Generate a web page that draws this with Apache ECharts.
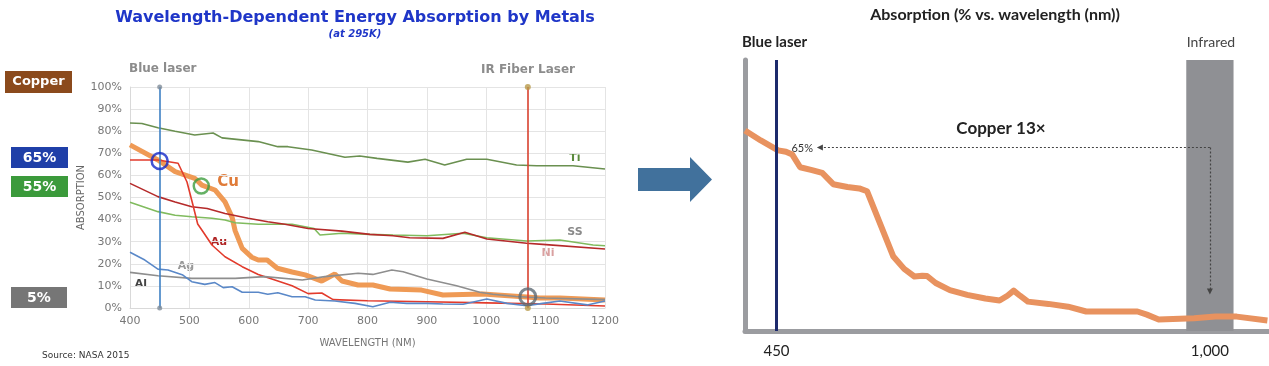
<!DOCTYPE html>
<html><head><meta charset="utf-8">
<script src="https://cdn.jsdelivr.net/npm/echarts@6/dist/echarts.min.js"></script>
<style>html,body{margin:0;padding:0;background:#fff}#c{width:1269px;height:366px}</style>
</head><body><div id="c"></div>
<script>
// ---------- Left chart data: [wavelength nm, absorption %] ----------
const tiData = [[400,83.7],[420,83.5],[447,81.6],[476,80],[509,78.3],[540,79.2],[555,77],[616,75.3],[649,73],[666,73],[706,71.5],[762,68.2],[787,68.8],[816,67.7],[868,66],[897,67.3],[930,64.7],[967,67.3],[1001,67.3],[1051,64.7],[1085,64.4],[1146,64.4],[1200,62.9]];
const cuData = [[400,73.8],[447,67],[476,61.7],[509,58.7],[521,55.6],[543,53.4],[560,48],[572,41],[577,35],[589,27],[605,23],[616,21.7],[631,21.7],[648,18],[673,16.3],[695,15],[723,12.2],[745,15.4],[757,12.2],[784,10.4],[809,10.4],[838,8.6],[891,8.1],[927,5.9],[994,6.3],[1068,5],[1090,4.5],[1124,4.5],[1200,3.6]];
const auData = [[400,67],[447,67],[481,65.5],[496,57],[506,46.6],[514,38],[523,34.5],[538,28.5],[560,23.2],[589,18.7],[616,15.2],[644,12.7],[673,10.1],[700,6.5],[723,6.8],[742,3.8],[800,3.3],[900,2.8],[1000,2.3],[1100,1.8],[1200,0.9]];
const agData = [[400,16.1],[447,14.6],[504,13.4],[577,13.4],[627,14.2],[690,12.7],[728,14.2],[784,15.7],[809,15.2],[841,17.2],[860,16.4],[900,13.1],[950,10.1],[989,7.1],[1011,6.2],[1050,5.2],[1100,4.5],[1200,3.8]];
const alData = [[400,25.2],[425,21.7],[447,17.6],[464,17.2],[489,14.9],[504,11.9],[526,10.7],[543,11.5],[557,9.2],[572,9.6],[589,7.1],[616,7.1],[632,6.2],[649,6.9],[673,5.1],[695,5.1],[712,3.6],[745,3.2],[779,2.1],[809,0.6],[838,2.6],[866,2.1],[900,2.1],[927,1.8],[961,1.7],[1001,4.1],[1035,2.1],[1068,1.0],[1095,2.1],[1124,3.2],[1170,1.4],[1200,3.2]];
const niData = [[400,56.4],[447,50.4],[476,48],[504,45.8],[530,45],[560,42.8],[599,40.6],[632,39],[661,37.9],[700,36],[757,34.8],[804,33.3],[843,32.7],[871,31.8],[927,31.5],[964,34.3],[1001,31.2],[1068,29.3],[1095,28.8],[1200,26.7]];
const ssData = [[400,47.8],[447,43.6],[476,42],[504,41.3],[538,40.6],[560,39.8],[577,38.6],[616,37.9],[673,37.9],[710,36],[720,33],[757,33.8],[804,33.3],[843,33],[900,32.7],[961,33.8],[1001,31.8],[1068,30.3],[1124,30.8],[1180,28.5],[1200,28.2]];
const blueLaserNm = 450;
const irFiberNm = 1070;
const blueRing = [[450,66.5]];
const greenRing = [[520,55.2]];
const grayRing = [[1070,5.1]];
const laserEnds = [[450,100],[450,0]];
const irEnds = [[1070,100],[1070,0]];

// ---------- Right chart data ----------
const cuRightData = [[410,71],[430,67.5],[452,64],[462,63.5],[470,62.5],[480,58],[495,57],[508,56],[522,52],[540,51],[555,50.5],[565,49.5],[598,26.5],[612,22],[625,19.3],[635,19.6],[641,19.5],[652,17],[670,14.5],[692,12.8],[715,11.5],[733,10.8],[743,12.5],[751,14.3],[759,12.5],[769,10.4],[795,9.6],[820,8.6],[843,6.9],[875,6.9],[908,6.9],[920,5.8],[935,4.1],[980,4.5],[1007,5.1],[1034,5.1],[1073,3.7]];
const rightTickLabels = [450, 1000];
const infraredBand = [970, 1030];
const copperBlue = 65, copperIR = 5, arrowLeftNm = 505, arrowBottom = 14;

const FL = 'DejaVu Sans';
const FR = 'Lato';
const chart = echarts.init(document.getElementById('c'), null, {renderer:'canvas'});

function line(name, data, color, width, z) {
  return {name, type:'line', data, showSymbol:false, silent:true, z: z||2,
    lineStyle:{color, width}, itemStyle:{color}};
}
function ring(data, color, size, bw) {
  return {type:'scatter', data, symbol:'circle', symbolSize:size, z:6, silent:true,
    itemStyle:{color:'rgba(0,0,0,0)', borderColor:color, borderWidth:bw}};
}

const option = {
  animation:false,
  backgroundColor:'#fff',
  grid:[
    {left:130, top:87, width:475, height:221},
    {left:745, top:60, width:524, height:271}
  ],
  xAxis:[
    {gridIndex:0, type:'value', min:400, max:1200, interval:100,
     axisLine:{show:true, lineStyle:{color:'#d9d9d9'}}, axisTick:{show:false},
     splitLine:{show:true, lineStyle:{color:'#e4e4e4'}},
     axisLabel:{color:'#777', fontSize:11, fontFamily:FL, margin:8, formatter:v=>String(v)},
     name:'WAVELENGTH (NM)', nameLocation:'middle', nameGap:30,
     nameTextStyle:{color:'#777', fontSize:10, fontFamily:FL}},
    {gridIndex:1, type:'value', min:410, max:1075,
     axisLine:{show:true, lineStyle:{color:'#9b9ca0', width:5}}, axisTick:{show:false},
     splitLine:{show:false},
     axisLabel:{customValues:rightTickLabels, color:'#222', fontSize:15, fontFamily:FR, margin:13,
       formatter:v=>Number(v).toLocaleString('en-US')}}
  ],
  yAxis:[
    {gridIndex:0, type:'value', min:0, max:100, interval:10,
     axisLine:{show:true, lineStyle:{color:'#d9d9d9'}}, axisTick:{show:false},
     splitLine:{show:true, lineStyle:{color:'#e4e4e4'}},
     axisLabel:{color:'#777', fontSize:11, fontFamily:FL, margin:8, formatter:'{value}%'},
     name:'ABSORPTION', nameLocation:'middle', nameRotate:90, nameGap:44,
     nameTextStyle:{color:'#666', fontSize:10, fontFamily:FL}},
    {gridIndex:1, type:'value', min:0, max:96,
     axisLine:{show:true, lineStyle:{color:'#9b9ca0', width:5}}, axisTick:{show:false},
     splitLine:{show:false}, axisLabel:{show:false}}
  ],
  series:[
    line('Cu', cuData, '#ef9a55', 5, 2),
    line('Ti', tiData, '#6a9050', 1.6, 3),
    line('SS', ssData, '#80bb5e', 1.6, 3),
    line('Ni', niData, '#b52a2a', 1.6, 3),
    line('Au', auData, '#e23b2c', 1.6, 3),
    line('Ag', agData, '#8e8e8e', 1.6, 3),
    line('Al', alData, '#5a88c8', 1.6, 3),
    {type:'line', data:[], silent:true, z:4,
     markLine:{silent:true, symbol:'none', label:{show:false},
       data:[
         {xAxis:blueLaserNm, lineStyle:{color:'#3e80c4', width:1.6, type:'solid'}},
         {xAxis:irFiberNm, lineStyle:{color:'#d8412f', width:1.6, type:'solid'}}
       ]}},
    {type:'scatter', data:laserEnds, symbolSize:5, z:5, silent:true, itemStyle:{color:'#7f8c99'}},
    {type:'scatter', data:irEnds, symbolSize:6, z:5, silent:true, itemStyle:{color:'#b89a4a'}},
    ring(blueRing, '#1428c8', 16, 2.5),
    ring(greenRing, '#3e9e3e', 15, 2.5),
    ring(grayRing, '#5e6a74', 16, 3),
    // ----- right chart -----
    {type:'line', xAxisIndex:1, yAxisIndex:1, data:[], silent:true, z:1,
     markArea:{silent:true, itemStyle:{color:'#8f9094'},
       data:[[{xAxis:infraredBand[0]},{xAxis:infraredBand[1]}]]},
     markLine:{silent:true, symbol:'none', label:{show:false},
       data:[{xAxis:blueLaserNm, lineStyle:{color:'#1d2a6c', width:3, type:'solid'}}]}},
    {name:'Cu right', type:'line', xAxisIndex:1, yAxisIndex:1, data:cuRightData, showSymbol:false,
     silent:true, z:3, lineStyle:{color:'#e8925f', width:6, join:'round'}},
    {type:'line', xAxisIndex:1, yAxisIndex:1, data:[], silent:true, z:5,
     markLine:{silent:true, symbol:['none','triangle'], symbolSize:[6,6], label:{show:false},
       lineStyle:{color:'#444', width:1.2, type:[2,2]},
       data:[
         [{coord:[1000,copperBlue]},{coord:[arrowLeftNm,copperBlue]}],
         [{coord:[1000,copperBlue]},{coord:[1000,arrowBottom]}]
       ]}}
  ],
  graphic:[
    {type:'text', x:355, y:18, style:{text:'Wavelength-Dependent Energy Absorption by Metals', fill:'#1f36c8', font:'bold 16px "DejaVu Sans"', textAlign:'center', textVerticalAlign:'middle'}},
    {type:'text', x:355, y:34, style:{text:'(at 295K)', fill:'#1f36c8', font:'italic bold 10px "DejaVu Sans"', textAlign:'center', textVerticalAlign:'middle'}},
    {type:'text', x:129, y:69, style:{text:'Blue laser', fill:'#8c8c8c', font:'bold 12px "DejaVu Sans"', textAlign:'left', textVerticalAlign:'middle'}},
    {type:'text', x:528, y:70, style:{text:'IR Fiber Laser', fill:'#8c8c8c', font:'bold 12px "DejaVu Sans"', textAlign:'center', textVerticalAlign:'middle'}},
    {type:'rect', shape:{x:5, y:71, width:67, height:22}, style:{fill:'#8b4a1c'}},
    {type:'text', x:38.5, y:82, style:{text:'Copper', fill:'#fff', font:'bold 13px "DejaVu Sans"', textAlign:'center', textVerticalAlign:'middle'}},
    {type:'rect', shape:{x:11, y:147, width:57, height:21}, style:{fill:'#1f3fa8'}},
    {type:'text', x:39.5, y:158, style:{text:'65%', fill:'#fff', font:'bold 14px "DejaVu Sans"', textAlign:'center', textVerticalAlign:'middle'}},
    {type:'rect', shape:{x:11, y:176, width:57, height:21}, style:{fill:'#3b9a3b'}},
    {type:'text', x:39.5, y:187, style:{text:'55%', fill:'#fff', font:'bold 14px "DejaVu Sans"', textAlign:'center', textVerticalAlign:'middle'}},
    {type:'rect', shape:{x:11, y:287, width:56, height:21}, style:{fill:'#767676'}},
    {type:'text', x:39, y:298, style:{text:'5%', fill:'#fff', font:'bold 14px "DejaVu Sans"', textAlign:'center', textVerticalAlign:'middle'}},
    {type:'text', x:42, y:356, style:{text:'Source: NASA 2015', fill:'#333', font:'9px "DejaVu Sans"', textAlign:'left', textVerticalAlign:'middle'}},
    {type:'text', x:575, y:158, style:{text:'Ti', fill:'#5a8a3c', font:'bold 11px "DejaVu Sans"', textAlign:'center', textVerticalAlign:'middle'}},
    {type:'text', x:228, y:182, style:{text:'Cu', fill:'#e07b39', font:'bold 15px "DejaVu Sans"', textAlign:'center', textVerticalAlign:'middle'}},
    {type:'text', x:219, y:242, style:{text:'Au', fill:'#b02525', font:'bold 11px "DejaVu Sans"', textAlign:'center', textVerticalAlign:'middle'}},
    {type:'text', x:186, y:266, style:{text:'Ag', fill:'#999', font:'bold 11px "DejaVu Sans"', textAlign:'center', textVerticalAlign:'middle'}},
    {type:'text', x:141, y:284, style:{text:'Al', fill:'#444', font:'bold 11px "DejaVu Sans"', textAlign:'center', textVerticalAlign:'middle'}},
    {type:'text', x:575, y:232, style:{text:'SS', fill:'#8a8a8a', font:'bold 11px "DejaVu Sans"', textAlign:'center', textVerticalAlign:'middle'}},
    {type:'text', x:548, y:253, style:{text:'Ni', fill:'#d9a0a0', font:'bold 11px "DejaVu Sans"', textAlign:'center', textVerticalAlign:'middle'}},
    {type:'polygon', shape:{points:[[638,168],[690,168],[690,157],[712,179.5],[690,202],[690,191],[638,191]]}, style:{fill:'#41719c'}},
    {type:'text', x:995, y:15, style:{text:'Absorption (% vs. wavelength (nm))', fill:'#222', font:'bold 16px Lato', textAlign:'center', textVerticalAlign:'middle'}},
    {type:'text', x:742, y:42, style:{text:'Blue laser', fill:'#222', font:'bold 15px Lato', textAlign:'left', textVerticalAlign:'middle'}},
    {type:'text', x:1211, y:42, style:{text:'Infrared', fill:'#444', font:'14px Lato', textAlign:'center', textVerticalAlign:'middle'}},
    {type:'text', x:1001, y:129, style:{text:'Copper 13×', fill:'#222', font:'bold 17px Lato', textAlign:'center', textVerticalAlign:'middle'}},
    {type:'text', x:813, y:148, style:{text:'65%', fill:'#333', font:'11px Lato', textAlign:'right', textVerticalAlign:'middle'}},
    {type:'text', x:1211, y:306, style:{text:'5%', fill:'#fff', font:'11px Lato', textAlign:'center', textVerticalAlign:'middle'}}
  ]
};
chart.setOption(option);
</script>
</body></html>
